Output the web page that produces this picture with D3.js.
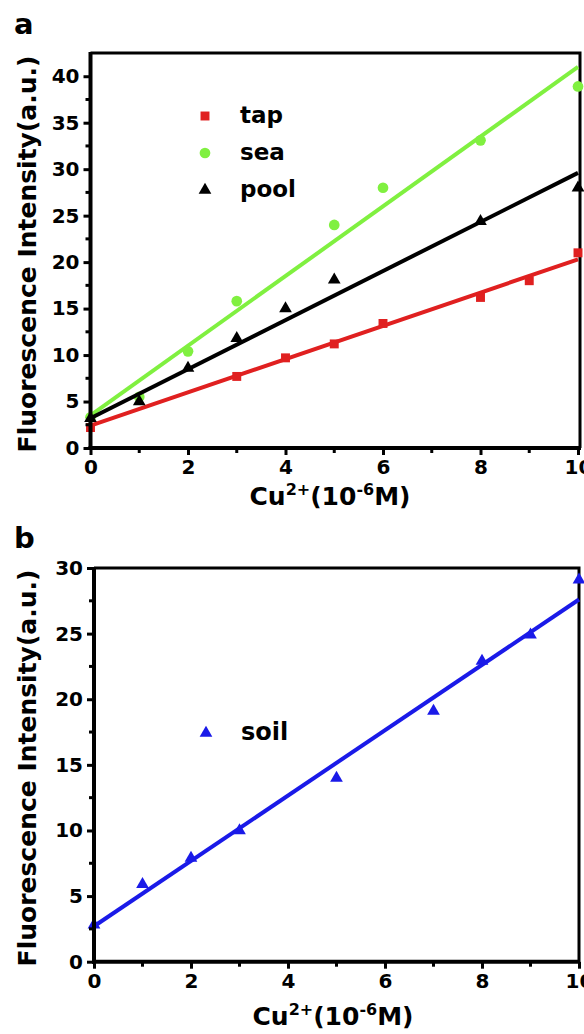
<!DOCTYPE html>
<html><head><meta charset="utf-8">
<script src="https://cdn.jsdelivr.net/npm/d3@7"></script>
<style>body{margin:0;background:#fff}svg{display:block}text{font-family:"DejaVu Sans",sans-serif;font-weight:bold;fill:#000}</style>
</head><body>
<script>
// ---- data ----
const xTicks = [0, 2, 4, 6, 8, 10];
const xMinor = [1, 3, 5, 7, 9];
const yTicksA = [0, 5, 10, 15, 20, 25, 30, 35, 40];
const yTicksB = [0, 5, 10, 15, 20, 25, 30];

const tapX = [0, 3, 4, 5, 6, 8, 9, 10];
const tapY = [2.2, 7.7, 9.7, 11.2, 13.4, 16.2, 18.0, 21.0];
const seaX = [0, 1, 2, 3, 5, 6, 8, 10];
const seaY = [3.3, 5.5, 10.4, 15.8, 24.0, 28.0, 33.1, 38.9];
const poolX = [0, 1, 2, 3, 4, 5, 8, 10];
const poolY = [3.2, 5.0, 8.6, 11.8, 15.0, 18.1, 24.4, 28.0];
const soilX = [0, 1, 2, 3, 5, 7, 8, 9, 10];
const soilY = [2.8, 5.9, 7.9, 10.0, 14.0, 19.1, 22.9, 24.9, 29.1];

// fitted lines (value at x=0 and x=10)
const fitX = [0, 10];
const tapFit = [2.4, 20.3];
const seaFit = [3.5, 41.0];
const poolFit = [3.2, 29.6];
const soilFit = [2.7, 27.6];

const W = 584, H = 1034;
const svg = d3.select("body").append("svg").attr("width", W).attr("height", H);
const FONT = '"DejaVu Sans",sans-serif';

function panel(o) {
  const g = svg.append("g");
  const x = d3.scaleLinear().domain([0, 10]).range([o.x0, o.x1]);
  const y = d3.scaleLinear().domain(o.ydom).range([o.yb, o.yt]);
  // frame top/right
  g.append("path").attr("d", `M${o.x0},${o.yt}H${o.xr}V${o.yb}`)
    .attr("fill", "none").attr("stroke", "#000").attr("stroke-width", 3);
  // fit lines & points
  o.series.forEach(s => {
    g.append("line").attr("x1", x(fitX[0])).attr("x2", x(fitX[1]))
      .attr("y1", y(s.fit[0])).attr("y2", y(s.fit[1]))
      .attr("stroke", s.color).attr("stroke-width", 4);
    const sym = d3.symbol().type(s.sym).size(s.size);
    s.xs.forEach((xv, i) => {
      g.append("path").attr("d", sym()).attr("fill", s.color)
        .attr("transform", `translate(${x(xv)},${y(s.ys[i])})`);
    });
  });
  // axes
  const xa = g.append("g").attr("transform", `translate(0,${o.yb})`)
    .call(d3.axisBottom(x).tickValues(xTicks).tickSize(7).tickPadding(5).tickFormat(d3.format("d")));
  xa.append("g").selectAll("line").data(xMinor).join("line")
    .attr("x1", d => x(d)).attr("x2", d => x(d)).attr("y1", 0).attr("y2", 5)
    .attr("stroke", "#000").attr("stroke-width", 3);
  const ya = g.append("g").attr("transform", `translate(${o.x0},0)`)
    .call(d3.axisLeft(y).tickValues(o.yticks).tickSize(7).tickPadding(4).tickFormat(d3.format("d")));
  const minorY = o.yticks.slice(0, -1).map(v => v + 2.5).filter(v => v < o.ydom[1]);
  ya.append("g").selectAll("line").data(minorY).join("line")
    .attr("x1", 0).attr("x2", -5).attr("y1", d => y(d)).attr("y2", d => y(d))
    .attr("stroke", "#000").attr("stroke-width", 3);
  [xa, ya].forEach(a => {
    a.select(".domain").remove();
    a.selectAll(".tick line").attr("stroke-width", 3);
    a.selectAll("text").style("font-size", "20px").style("font-weight", "bold")
      .style("font-family", FONT);
  });
  // axis lines
  g.append("line").attr("x1", o.x0).attr("x2", o.x0).attr("y1", o.yt - 1).attr("y2", o.yb + 2)
    .attr("stroke", "#000").attr("stroke-width", 4);
  g.append("line").attr("x1", o.x0 - 2).attr("x2", o.xr + 1).attr("y1", o.yb).attr("y2", o.yb)
    .attr("stroke", "#000").attr("stroke-width", 4);
  // y title
  g.append("text").attr("transform", `translate(${o.ytx},${o.ytc}) rotate(-90)`)
    .attr("text-anchor", "middle").style("font-size", "25px").text("Fluorescence Intensity(a.u.)");
  // x title
  const t = g.append("text").attr("x", o.xtc).attr("y", o.xty).attr("text-anchor", "middle").style("font-size", "25px");
  t.append("tspan").text("Cu");
  t.append("tspan").attr("dy", -10).style("font-size", "16px").text("2+");
  t.append("tspan").attr("dy", 10).text("(10");
  t.append("tspan").attr("dy", -10).style("font-size", "16px").text("-6");
  t.append("tspan").attr("dy", 10).text("M)");
  // panel letter
  g.append("text").attr("x", 14).attr("y", o.lettery).style("font-size", "29px").text(o.letter);
  // legend
  o.series.forEach((s, i) => {
    const ly = o.legY + i * 37;
    const sym = d3.symbol().type(s.sym).size(s.size);
    g.append("path").attr("d", sym()).attr("fill", s.color).attr("transform", `translate(${o.legX},${ly})`);
    g.append("text").attr("x", o.legX + 35).attr("y", ly + 7).style("font-size", o.legFont).text(s.name);
  });
}

panel({
  x0: 90.5, x1: 578, xr: 580, yb: 448, yt: 53, ydom: [0, 42.5], yticks: yTicksA,
  ytx: 36, ytc: 254, xtc: 330, xty: 505, letter: "a", lettery: 34,
  legX: 205, legY: 116, legFont: "23px",
  series: [
    {name: "tap", xs: tapX, ys: tapY, fit: tapFit, color: "#e02020", sym: d3.symbolSquare, size: 80},
    {name: "sea", xs: seaX, ys: seaY, fit: seaFit, color: "#80f040", sym: d3.symbolCircle, size: 90},
    {name: "pool", xs: poolX, ys: poolY, fit: poolFit, color: "#000000", sym: d3.symbolTriangle, size: 70}
  ]
});
panel({
  x0: 94, x1: 579, xr: 579, yb: 961.7, yt: 568, ydom: [0, 30], yticks: yTicksB,
  ytx: 36, ytc: 768, xtc: 333, xty: 1025, letter: "b", lettery: 548,
  legX: 206, legY: 733, legFont: "24px",
  series: [
    {name: "soil", xs: soilX, ys: soilY, fit: soilFit, color: "#1a1ae8", sym: d3.symbolTriangle, size: 70}
  ]
});
</script>
</body></html>
